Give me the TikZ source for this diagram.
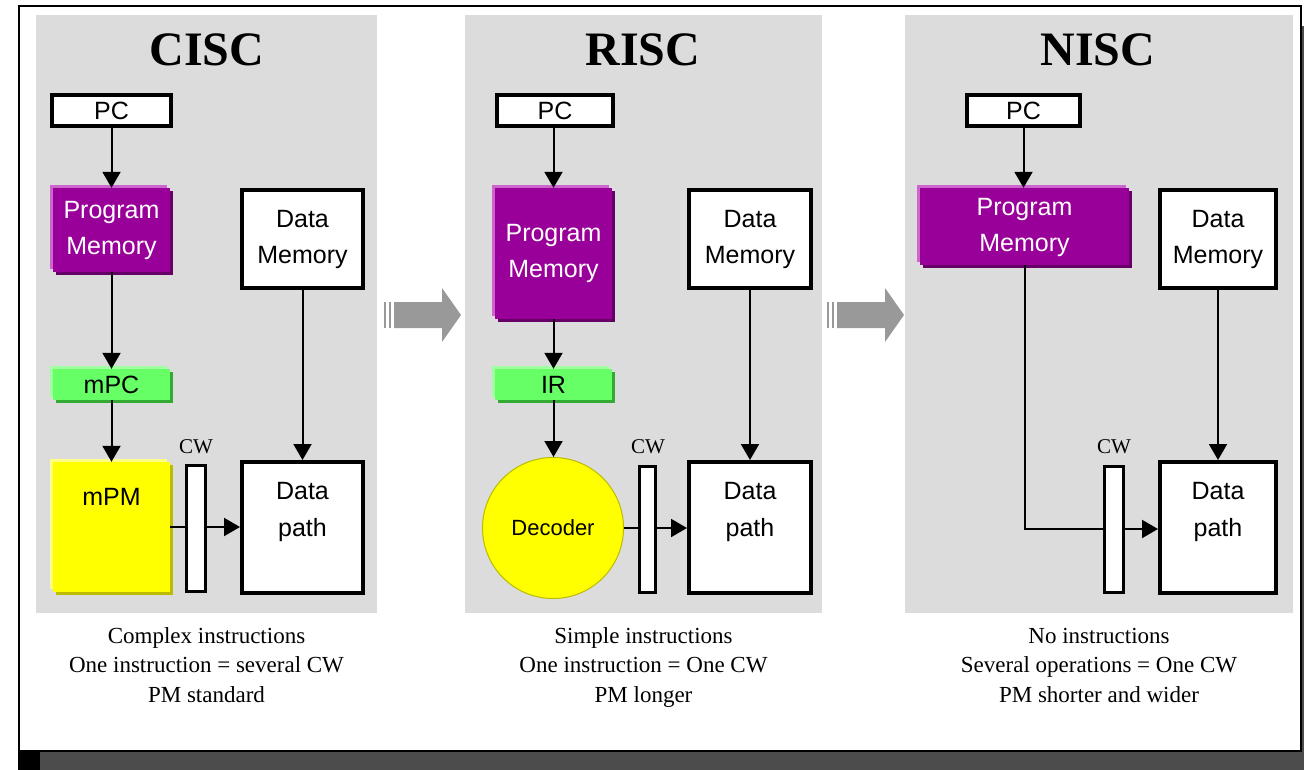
\documentclass[tikz,border=0pt]{standalone}
\usepackage{fontspec}
\setmainfont{Liberation Serif}
\newfontfamily\boxfont{Liberation Sans}
\usetikzlibrary{shadows,arrows.meta}
\definecolor{panel}{HTML}{DCDCDC}
\definecolor{pmmain}{HTML}{990099}
\definecolor{pmlight}{HTML}{CC66CC}
\definecolor{pmdark}{HTML}{660066}
\definecolor{grmain}{HTML}{66FF66}
\definecolor{grlight}{HTML}{A0FFA0}
\definecolor{grdark}{HTML}{33AA33}
\definecolor{ylmain}{HTML}{FFFF00}
\definecolor{yllight}{HTML}{FFFF88}
\definecolor{yldark}{HTML}{BBBB00}
\definecolor{bigarrow}{HTML}{999999}
\definecolor{shadowgray}{HTML}{4C4C4C}
\begin{document}
\begin{tikzpicture}[x=1pt,y=-1pt,
  bfont/.style={font=\boxfont\fontsize{25}{36}\selectfont},
  plain/.style={draw, line width=4pt, fill=white, inner sep=0, bfont, align=center},
  threed/.style n args={3}{fill=#1, draw=none, inner sep=0,
     general shadow={fill=#2, shadow xshift=-3pt, shadow yshift=3pt},
     general shadow={fill=#3, shadow xshift=3pt, shadow yshift=-3pt}},
  pmbox/.style={threed={pmmain}{pmlight}{pmdark}, text=white, bfont, align=center},
  grbox/.style={threed={grmain}{grlight}{grdark}, bfont},
  ylbox/.style={threed={ylmain}{yllight}{yldark}, bfont},
  cwbar/.style={draw, line width=3pt, fill=white, inner sep=0, minimum height=126pt},
  cwlabel/.style={font=\fontsize{21}{21}\selectfont, inner sep=0},
  title/.style={font=\bfseries\fontsize{48}{48}\selectfont, inner sep=0},
  caption/.style={font=\fontsize{23}{29.5}\selectfont, align=center, inner sep=0, anchor=north},
  conn/.style={line width=2pt},
  arr/.style={conn, -{Triangle[length=16pt,width=18pt]}},
  dplabel/.style={label={[anchor=north, inner sep=0, yshift=-22pt, bfont, align=center, font=\boxfont\fontsize{25}{37}\selectfont]north:Data\\path}}
]
\useasboundingbox (0,0) rectangle (1304,770);
% frame and its shadow
\fill[white] (19,6) rectangle (1301,751);
\fill[shadowgray] (40,752) rectangle (1304,770);
\fill[black] (18,751) rectangle (40,770);
\fill[shadowgray] (1302,26) rectangle (1304,752);
\draw[line width=2pt] (19,6) rectangle (1301,751);
% panels
\fill[panel] (36,15) rectangle (377,613);
\fill[panel] (465,15) rectangle (822,613);
\fill[panel] (905,15) rectangle (1293,613);
% big grey arrows
\foreach \dx in {0,443}{
  \begin{scope}[xshift=\dx pt]
    \fill[bigarrow] (384,302) rectangle (386,328);
    \fill[bigarrow] (389,302) rectangle (391,328);
    \fill[bigarrow] (394,302) -- (442,302) -- (442,288) -- (461,315) -- (442,342) -- (442,328) -- (394,328) -- cycle;
  \end{scope}
}
% titles
\node[title] (t1) at (207,50) {CISC};
\node[title] (t2) at (643,50) {RISC};
\node[title] (t3) at (1098,50) {NISC};

% ---------------- CISC
\node[plain, minimum width=119pt, minimum height=31pt] (pc1) at (111.5,110.5) {PC};
\node[pmbox, minimum width=117pt, minimum height=84pt] (pm1) at (111.5,230) {Program\\Memory};
\node[grbox, minimum width=117pt, minimum height=31pt] (mpc1) at (111.5,384.5) {mPC};
\node[ylbox, minimum width=117pt, minimum height=130pt,
      label={[anchor=north, inner sep=0, yshift=-26pt, bfont]north:mPM}] (mpm1) at (111.5,527) {};
\node[cwbar, minimum width=19pt] (cw1) at (196,528.5) {};
\node[cwlabel] (cwl1) at (196,447) {CW};
\node[plain, minimum width=121pt, minimum height=98pt] (dm1) at (302.5,239) {Data\\Memory};
\node[plain, minimum width=121pt, minimum height=131pt, dplabel] (dp1) at (302.5,527.5) {};
\draw[arr] (pc1.south) -- (pc1.south |- pm1.north);
\draw[arr] (pm1.south) -- (pm1.south |- mpc1.north);
\draw[arr] (mpc1.south) -- (mpc1.south |- mpm1.north);
\draw[arr] (dm1.south) -- (dp1.north);
\draw[conn] (mpm1.east) -- (mpm1.east -| cw1.west);
\draw[arr] (mpm1.east -| cw1.east) -- (mpm1.east -| dp1.west);
\node[caption] (c1) at (206.5,627) {\rule{0pt}{16pt}Complex instructions\\One instruction = several CW\\PM standard};

% ---------------- RISC
\node[plain, minimum width=116pt, minimum height=31pt] (pc2) at (555,110.5) {PC};
\node[pmbox, minimum width=117pt, minimum height=131pt] (pm2) at (553.5,253.5) {Program\\Memory};
\node[grbox, minimum width=117pt, minimum height=31pt] (ir2) at (553.5,384.5) {IR};
\node[circle, fill=ylmain, draw=yldark, line width=1pt, minimum size=141pt, inner sep=0,
      font=\boxfont\fontsize{22}{22}\selectfont] (dec2) at (553,528) {Decoder};
\node[cwbar, minimum width=16pt] (cw2) at (647.5,529) {};
\node[cwlabel] (cwl2) at (648,447) {CW};
\node[plain, minimum width=122pt, minimum height=98pt] (dm2) at (750,239) {Data\\Memory};
\node[plain, minimum width=122pt, minimum height=131pt, dplabel] (dp2) at (750,527.5) {};
\draw[arr] (pc2.south -| pm2.north) -- (pm2.north);
\draw[arr] (pm2.south) -- (ir2.north);
\draw[arr] (ir2.south) -- (ir2.south |- dec2.north);
\draw[arr] (dm2.south) -- (dp2.north);
\draw[conn] (dec2.east) -- (dec2.east -| cw2.west);
\draw[arr] (dec2.east -| cw2.east) -- (dec2.east -| dp2.west);
\node[caption] (c2) at (643.5,627) {\rule{0pt}{16pt}Simple instructions\\One instruction = One CW\\PM longer};

% ---------------- NISC
\node[plain, minimum width=113pt, minimum height=31pt] (pc3) at (1023.5,110.5) {PC};
\node[pmbox, minimum width=209pt, minimum height=77pt, text depth=4pt] (pm3) at (1024.5,226.5) {Program\\Memory};
\node[cwbar, minimum width=19pt] (cw3) at (1114,529) {};
\node[cwlabel] (cwl3) at (1114,447) {CW};
\node[plain, minimum width=116pt, minimum height=98pt] (dm3) at (1218,239) {Data\\Memory};
\node[plain, minimum width=116pt, minimum height=131pt, dplabel] (dp3) at (1218,527.5) {};
\draw[arr] (pc3.south) -- (pc3.south |- pm3.north);
\draw[arr] (dm3.south) -- (dp3.north);
\draw[conn] (pm3.south) |- (cw3.west);
\draw[arr] (cw3.east) -- (cw3.east -| dp3.west);
\node[caption] (c3) at (1099,627) {\rule{0pt}{16pt}No instructions\\Several operations = One CW\\PM shorter and wider};
\end{tikzpicture}
\end{document}
